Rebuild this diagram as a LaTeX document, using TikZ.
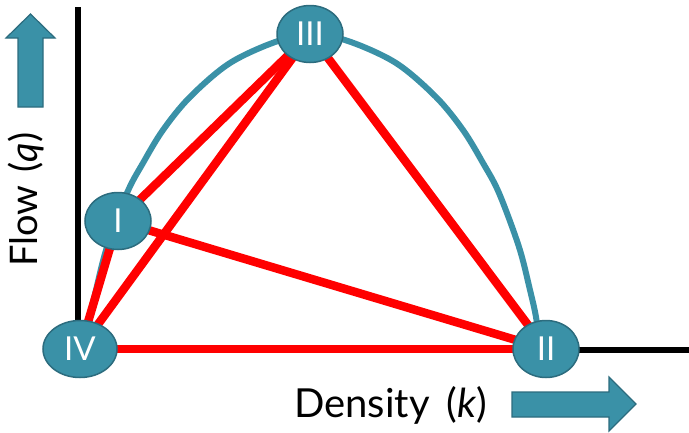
\documentclass[tikz,border=0pt]{standalone}
\usepackage{fontspec}
\setmainfont{Lato}
\usetikzlibrary{shapes.geometric,backgrounds}
\definecolor{tealA}{HTML}{3A91A7}
\definecolor{tealB}{HTML}{2C6C7E}
\begin{document}
\begin{tikzpicture}[x=1pt,y=-1pt,
  state/.style={ellipse, fill=tealA, draw=tealB, line width=1.5pt, text=white, inner sep=0pt,
    minimum width=66pt, minimum height=57pt, font=\fontsize{33}{33}\selectfont},
  redline/.style={draw=red, line width=8.5pt},
  axisline/.style={draw=black, line width=5.5pt},
  fdcurve/.style={draw=tealA, line width=6pt},
  bigarrow/.style={fill=tealA, draw=tealB, line width=1.2pt, line join=miter},
  axlabel/.style={inner sep=0pt, font=\fontsize{38}{38}\selectfont}]
\useasboundingbox (0,0) rectangle (689,432);

\node[state, minimum width=74pt] (IV) at (80,349) {IV};
\node[state] (II) at (546,349) {II};
\node[state] (III) at (310,34) {III};
\node[state] (I) at (118,221) {I};

\coordinate (ytop) at (78,7);
\coordinate (xend) at (689,350);

\begin{scope}[on background layer]
  \draw[axisline] (ytop) |- (xend);
  \draw[fdcurve] plot[smooth, tension=0.55] coordinates {(86,347) (90,317) (96,290) (107,247) (127,193) (143,163) (163,130) (190,97) (230,63) (278,41) (313,35) (348,41) (396,63) (436,97) (463,130) (483,163) (499,193) (519,247) (530,290) (536,317) (540,347)};
  \draw[redline] (IV.center) -- (I.center);
  \draw[redline] (IV.center) -- (III.center);
  \draw[redline] (IV.center) -- (II.center);
  \draw[redline] (I.center) -- (III.center);
  \draw[redline] (I.center) -- (II.center);
  \draw[redline] (III.center) -- (II.center);
\end{scope}

\draw[bigarrow] (18,107) -- (18,38) -- (6,38) -- (30.5,14) -- (55,38) -- (43,38) -- (43,107) -- cycle;
\draw[bigarrow] (512,392) -- (609,392) -- (609,377) -- (636,404) -- (609,431) -- (609,417) -- (512,417) -- cycle;

\node[axlabel, anchor=base west, font=\fontsize{40}{40}\selectfont] (dens) at (294,417) {Density\hspace{0.42em}(\textit{k})};
\node[axlabel, anchor=base west, rotate=90] (flow) at (37,267) {Flow\hspace{0.35em}(\textit{q})};
\end{tikzpicture}
\end{document}
